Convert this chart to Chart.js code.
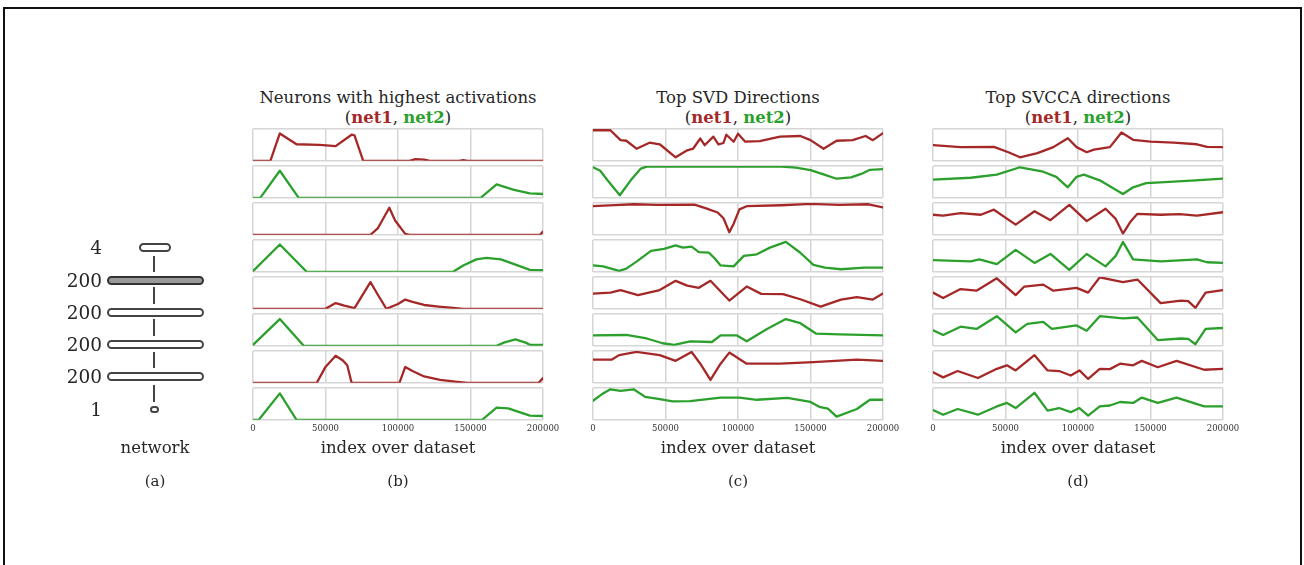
<!DOCTYPE html>
<html>
<head>
<meta charset="utf-8">
<script src="https://cdn.jsdelivr.net/npm/chart.js@4.4.0/dist/chart.umd.min.js"></script>
<style>
  body { margin: 0; width: 1304px; height: 565px; overflow: hidden; background: #fff; position: relative;
         font-family: "DejaVu Serif", serif; color: #262626; }
  .frame { position: absolute; left: 3px; top: 7px; width: 1299px; height: 620px; border: 2px solid #111; box-sizing: border-box; }
  .t { position: absolute; transform: translate(-50%, -50%); white-space: nowrap; }
  .r { position: absolute; transform: translateY(-50%); white-space: nowrap; text-align: right; width: 62px; }
  .pill { position: absolute; border: 2px solid #444; border-radius: 6px; box-sizing: border-box; background: #fff; }
  .stem { position: absolute; width: 2px; background: #444; }
  canvas { position: absolute; }
  .red { color: #a52828; font-weight: bold; }
  .green { color: #2ca02c; font-weight: bold; }
</style>
</head>
<body>
<div class="frame"></div>
<div id="host"></div>
<script>
// x in thousands of samples, y as fraction of the small plot's height
const xTicks = [0, 50, 100, 150, 200];

// (b) neurons with highest activations
const neuronNet1A = [[0,0],[12,0],[18.5,0.86],[30,0.52],[46,0.5],[57,0.46],[68,0.82],[70,0.8],[76,0],[108,0],[112,0.05],[118,0.04],[122,0],[142,0],[145,0.02],[148,0],[200,0]];
const neuronNet2A = [[0,0],[5,0],[18.5,0.85],[31.5,0],[157,0],[168,0.42],[180,0.25],[191,0.14],[200,0.12]];
const neuronNet1B = [[0,0],[81,0],[86,0.2],[94,0.85],[98,0.45],[105,0.03],[108,0],[198,0],[200,0.1]];
const neuronNet2B = [[0,0.02],[18.5,0.86],[37,0],[138,0],[145,0.2],[154,0.39],[161,0.44],[171,0.39],[191,0.06],[200,0.05]];
const neuronNet1C = [[0,0],[50,0],[57,0.18],[63,0.1],[70,0.02],[81,0.84],[86,0.45],[92,0],[100,0.15],[105,0.29],[110,0.22],[118,0.12],[128,0.07],[138,0.03],[145,0],[200,0]];
const neuronNet2C = [[0,0.03],[18.5,0.84],[35,0],[168,0],[173,0.1],[181,0.2],[188,0.1],[191,0.03],[200,0.03]];
const neuronNet1D = [[0,0],[44,0],[50,0.5],[57,0.85],[62,0.7],[65,0.55],[68,0],[101,0],[105,0.5],[110,0.37],[118,0.2],[129,0.09],[141,0.03],[148,0],[197,0],[200,0.15]];
const neuronNet2D = [[0,0],[4,0],[18.5,0.83],[30,0],[158,0],[168,0.38],[176,0.36],[191,0.13],[200,0.12]];

// (c) top SVD directions
const svdNet1A = [[0,0.96],[12,0.96],[19,0.65],[23,0.63],[30,0.38],[39,0.57],[46,0.52],[57,0.11],[65,0.33],[69,0.38],[74,0.7],[77,0.49],[83,0.76],[86.5,0.52],[90,0.56],[92,0.82],[97,0.6],[100,0.85],[105,0.6],[115,0.62],[129,0.76],[143,0.78],[150,0.65],[159,0.38],[168,0.63],[179,0.65],[188,0.78],[193,0.65],[200,0.87]];
const svdNet2A = [[0,0.96],[5,0.85],[10,0.55],[18.5,0.08],[26,0.55],[33,0.92],[37,0.98],[130,0.98],[140,0.95],[150,0.87],[160,0.72],[168,0.6],[178,0.64],[185,0.75],[191,0.88],[200,0.9]];
const svdNet1B = [[0,0.9],[15,0.93],[28,0.96],[45,0.94],[70,0.95],[78,0.83],[86,0.7],[90,0.52],[94,0.08],[97,0.35],[101,0.8],[106,0.9],[130,0.93],[150,0.97],[170,0.94],[190,0.96],[200,0.86]];
const svdNet2B = [[0,0.2],[7,0.17],[18,0.03],[23,0.1],[30,0.32],[40,0.66],[49,0.72],[57,0.83],[62,0.76],[68,0.79],[73,0.62],[80,0.6],[84,0.42],[88,0.2],[97,0.17],[104,0.5],[113,0.55],[122,0.76],[133,0.94],[143,0.6],[152,0.22],[160,0.13],[171,0.08],[187,0.13],[200,0.13]];
const svdNet1C = [[0,0.48],[12,0.51],[19,0.59],[31,0.43],[46,0.59],[57,0.88],[65,0.73],[73,0.66],[81,0.88],[94,0.26],[106,0.7],[116,0.47],[131,0.46],[143,0.3],[157,0.07],[171,0.29],[182,0.37],[193,0.29],[200,0.48]];
const svdNet2C = [[0,0.33],[23,0.34],[37,0.23],[48,0.08],[56,0.03],[67,0.14],[82,0.12],[88,0.33],[99,0.33],[106,0.14],[120,0.53],[133,0.84],[143,0.71],[154,0.38],[170,0.36],[200,0.33]];
const svdNet1D = [[0,0.73],[13,0.73],[18,0.87],[30,0.97],[46,0.87],[57,0.69],[68,0.97],[74,0.6],[81,0.09],[88,0.6],[94,0.95],[106,0.6],[129,0.6],[152,0.65],[170,0.7],[182,0.73],[200,0.69]];
const svdNet2D = [[0,0.6],[6,0.8],[12,0.96],[19,0.91],[28,0.96],[36,0.72],[45,0.66],[55,0.58],[67,0.59],[88,0.7],[101,0.7],[113,0.63],[134,0.69],[150,0.56],[156,0.41],[162,0.35],[168,0.1],[182,0.34],[191,0.63],[200,0.63]];

// (d) top SVCCA directions
const svccaNet1A = [[0,0.49],[19,0.43],[42,0.44],[52,0.27],[60,0.11],[72,0.24],[83,0.43],[93,0.71],[99,0.43],[106,0.27],[111,0.35],[122,0.43],[130,0.89],[138,0.66],[150,0.6],[166,0.57],[182,0.52],[189,0.44],[200,0.43]];
const svccaNet2A = [[0,0.57],[26,0.63],[44,0.73],[60,0.96],[76,0.82],[85,0.66],[93,0.33],[99,0.66],[104,0.73],[115,0.55],[131,0.12],[138,0.33],[147,0.46],[163,0.5],[181,0.55],[200,0.6]];
const svccaNet1B = [[0,0.63],[7,0.6],[19,0.68],[33,0.63],[42,0.79],[57,0.32],[70,0.74],[81,0.46],[94,0.94],[106,0.43],[119,0.82],[126,0.5],[131,0.04],[136,0.4],[141,0.66],[157,0.63],[170,0.65],[182,0.6],[200,0.71]];
const svccaNet2B = [[0,0.37],[26,0.33],[32,0.39],[44,0.24],[57,0.69],[70,0.28],[81,0.56],[94,0.06],[106,0.56],[119,0.17],[126,0.5],[131,0.94],[138,0.39],[157,0.33],[170,0.36],[182,0.39],[189,0.3],[200,0.28]];
const svccaNet1C = [[0,0.51],[7,0.34],[19,0.62],[30,0.57],[44,0.96],[57,0.43],[63,0.7],[76,0.76],[83,0.57],[99,0.66],[107,0.51],[115,0.99],[131,0.84],[141,0.92],[157,0.18],[171,0.26],[176,0.24],[181,0.03],[188,0.51],[200,0.59]];
const svccaNet2C = [[0,0.49],[7,0.34],[19,0.6],[30,0.53],[44,0.93],[57,0.42],[65,0.69],[76,0.75],[82,0.53],[99,0.64],[106,0.47],[115,0.93],[131,0.86],[141,0.89],[155,0.18],[171,0.23],[176,0.22],[181,0.05],[188,0.53],[200,0.56]];
const svccaNet1D = [[0,0.33],[7,0.17],[17,0.37],[31,0.15],[44,0.44],[51,0.55],[57,0.39],[70,0.87],[79,0.39],[87,0.37],[95,0.23],[101,0.39],[107,0.12],[115,0.44],[122,0.43],[129,0.6],[138,0.55],[144,0.69],[155,0.49],[168,0.69],[187,0.41],[200,0.44]];
const svccaNet2D = [[0,0.31],[7,0.16],[17,0.34],[31,0.16],[44,0.42],[51,0.53],[57,0.37],[70,0.85],[79,0.29],[87,0.37],[95,0.24],[101,0.37],[107,0.13],[115,0.42],[122,0.45],[129,0.56],[138,0.53],[144,0.7],[155,0.53],[168,0.7],[187,0.42],[200,0.42]];

const layerSizes = ["4", "200", "200", "200", "200", "1"];

const RED = "#a52828", GREEN = "#2ca02c", GRID = "#d6d6d6";
const rowTops = [129, 166, 203, 240, 277, 314, 351, 388];
const ROW_H = 31, PLOT_W = 290, PAD_X = 26, PAD_T = 3, AXIS_H = 19;

const panels = [
  { left: 253, title: "Neurons with highest activations", label: "(b)",
    rows: [neuronNet1A, neuronNet2A, neuronNet1B, neuronNet2B, neuronNet1C, neuronNet2C, neuronNet1D, neuronNet2D] },
  { left: 593, title: "Top SVD Directions", label: "(c)",
    rows: [svdNet1A, svdNet2A, svdNet1B, svdNet2B, svdNet1C, svdNet2C, svdNet1D, svdNet2D] },
  { left: 933, title: "Top SVCCA directions", label: "(d)",
    rows: [svccaNet1A, svccaNet2A, svccaNet1B, svccaNet2B, svccaNet1C, svccaNet2C, svccaNet1D, svccaNet2D] }
];

const host = document.getElementById("host");

function text(html, x, y, size, cls) {
  const d = document.createElement("div");
  d.className = cls || "t";
  d.style.left = x + "px"; d.style.top = y + "px"; d.style.fontSize = size + "px";
  d.innerHTML = html;
  host.appendChild(d);
  return d;
}

function smallPlot(left, top, series, color, showTicks) {
  const c = document.createElement("canvas");
  c.width = PLOT_W + 2 * PAD_X;
  c.height = PAD_T + ROW_H + AXIS_H;
  c.style.left = (left - PAD_X) + "px";
  c.style.top = (top - PAD_T) + "px";
  host.appendChild(c);
  new Chart(c, {
    type: "line",
    data: { datasets: [{ data: series, borderColor: color, borderWidth: 2.3, pointRadius: 0, tension: 0,
                         borderJoinStyle: "round", borderCapStyle: "round", fill: false }] },
    options: {
      responsive: false, animation: false, devicePixelRatio: 1,
      layout: { padding: { left: PAD_X, right: PAD_X, top: PAD_T, bottom: 0 } },
      plugins: { legend: { display: false }, tooltip: { enabled: false } },
      scales: {
        x: { type: "linear", min: 0, max: 200,
             afterBuildTicks: s => { s.ticks = xTicks.map(v => ({ value: v })); },
             ticks: { display: true, color: showTicks ? "#333" : "rgba(0,0,0,0)", padding: 4, maxRotation: 0, autoSkip: false,
                      font: { family: "DejaVu Serif", size: 8.5 }, callback: v => String(v * 1000) },
             grid: { color: GRID, lineWidth: 1.5, drawTicks: false }, border: { display: false } },
        y: { min: 0, max: 1, ticks: { display: false, stepSize: 1 },
             grid: { color: GRID, lineWidth: 1.5, drawTicks: false }, border: { display: false } }
      }
    }
  });
}

panels.forEach(p => {
  const cx = p.left + PLOT_W / 2;
  text(p.title, cx, 97, 16.5);
  text('(<span class="red">net1</span>, <span class="green">net2</span>)', cx, 117, 16.5);
  p.rows.forEach((s, i) => smallPlot(p.left, rowTops[i], s, i % 2 === 0 ? RED : GREEN, i === 7));
  text("index over dataset", cx, 447, 16.5);
  text(p.label, cx, 481, 15);
});

// (a) network diagram
const pillYs = [247, 280, 312, 344, 376];
pillYs.forEach((y, i) => {
  const d = document.createElement("div");
  d.className = "pill";
  if (i === 0) { d.style.left = "139px"; d.style.width = "32px"; }
  else { d.style.left = "107px"; d.style.width = "97px"; }
  d.style.top = (y - 4.5) + "px"; d.style.height = "9px";
  if (i === 1) { d.style.background = "#9a9a9a"; d.style.borderColor = "#333"; }
  host.appendChild(d);
});
[[256, 272], [287, 304], [319, 336], [352, 368], [385, 402]].forEach(([a, b]) => {
  const s = document.createElement("div");
  s.className = "stem";
  s.style.left = "153px"; s.style.top = a + "px"; s.style.height = (b - a) + "px";
  host.appendChild(s);
});
const dot = document.createElement("div");
dot.className = "pill";
dot.style.left = "150px"; dot.style.top = "406px"; dot.style.width = "9px"; dot.style.height = "7px";
host.appendChild(dot);
[247, 280, 312, 344, 376, 409].forEach((y, i) => {
  text(layerSizes[i], 40, y, 18.5, "r");
});
text("network", 155, 447, 16.5);
text("(a)", 155, 481, 15);
</script>
</body>
</html>
